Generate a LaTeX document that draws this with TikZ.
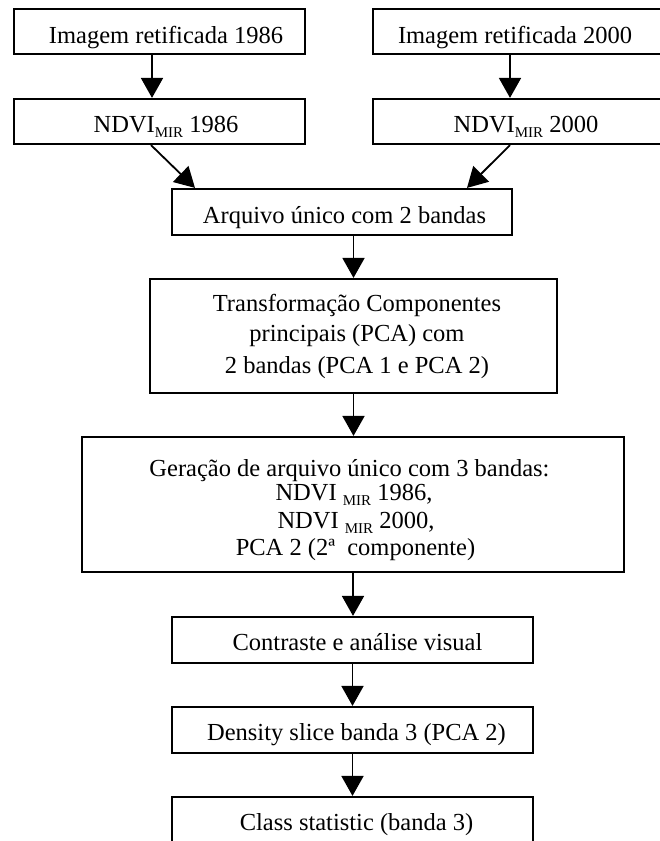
\documentclass[tikz,border=0pt]{standalone}
\usepackage{fontspec}
\setmainfont{Liberation Serif}
\usetikzlibrary{arrows.meta}
% lowered small "MIR" index after NDVI
\newcommand{\mirsub}{\raisebox{-5pt}{\fontsize{15}{15}\selectfont MIR}}

\begin{document}
\begin{tikzpicture}[x=1pt,y=-1pt,
  box/.style={draw, line width=2.2pt, rectangle, inner sep=0pt},
  txt/.style={anchor=base, inner sep=0pt, font=\fontsize{24.5}{28}\selectfont},
  arr/.style={line width=1.8pt, -{Triangle[width=22pt,length=20pt]}}]

\useasboundingbox (0,0) rectangle (659,841);

% boxes
\node[box, minimum width=291pt, minimum height=45pt] (b1)  at (159.5,31.5) {};
\node[box, minimum width=289pt, minimum height=45pt] (b2)  at (517.5,31.5) {};
\node[box, minimum width=291pt, minimum height=45pt] (n1)  at (159.5,121.5) {};
\node[box, minimum width=289pt, minimum height=45pt] (n2)  at (517.5,121.5) {};
\node[box, minimum width=340pt, minimum height=46pt] (arq) at (342,212) {};
\node[box, minimum width=407pt, minimum height=114pt] (pca) at (353.5,336) {};
\node[box, minimum width=542pt, minimum height=135pt] (ger) at (353,504.5) {};
\node[box, minimum width=361pt, minimum height=46pt] (con) at (352.5,640) {};
\node[box, minimum width=361pt, minimum height=46pt] (den) at (352.5,730) {};
\node[box, minimum width=361pt, minimum height=90pt] (cls) at (352.5,842) {};

% labels
\node[txt] (t1)  at (166,43)  {Imagem retificada 1986};
\node[txt] (t2)  at (515,43)  {Imagem retificada 2000};
\node[txt] (t3)  at (166,132) {NDVI\mirsub{} 1986};
\node[txt] (t4)  at (526,132) {NDVI\mirsub{} 2000};
\node[txt] (t5)  at (344.5,223) {Arquivo único com 2 bandas};
\node[txt] (t6a) at (357,311) {Transformação Componentes};
\node[txt] (t6b) at (357,341) {principais (PCA) com};
\node[txt] (t6c) at (357,373) {2 bandas (PCA 1 e PCA 2)};
\node[txt] (t7a) at (349.5,476) {Geração de arquivo único com 3 bandas:};
\node[txt] (t7b) at (354,500) {NDVI \mirsub{} 1986,};
\node[txt] (t7c) at (356,528) {NDVI \mirsub{} 2000,};
\node[txt] (t7d) at (355.5,555) {PCA 2 (2ª\ \ componente)};
\node[txt] (t8)  at (357.5,650) {Contraste e análise visual};
\node[txt] (t9)  at (356.5,740) {Density slice banda 3 (PCA 2)};
\node[txt] (t10) at (356.5,830) {Class statistic (banda 3)};

% connectors
\draw[arr] ([xshift=-7.5pt]b1.south) -- ([xshift=-7.5pt]n1.north);
\draw[arr] ([xshift=-7.5pt]b2.south) -- ([xshift=-7.5pt]n2.north);
\draw[arr] ([xshift=-8.5pt]n1.south) -- ([xshift=-147pt]arq.north);
\draw[arr] ([xshift=-7.5pt]n2.south) -- ([xshift=125pt]arq.north);
\draw[arr] (arq.south -| pca.north) -- (pca.north);
\draw[arr] (pca.south) -- (pca.south |- ger.north);
\draw[arr] (ger.south) -- (ger.south |- con.north);
\draw[arr] (con.south) -- (den.north);
\draw[arr] (den.south) -- (cls.north);
\end{tikzpicture}
\end{document}
